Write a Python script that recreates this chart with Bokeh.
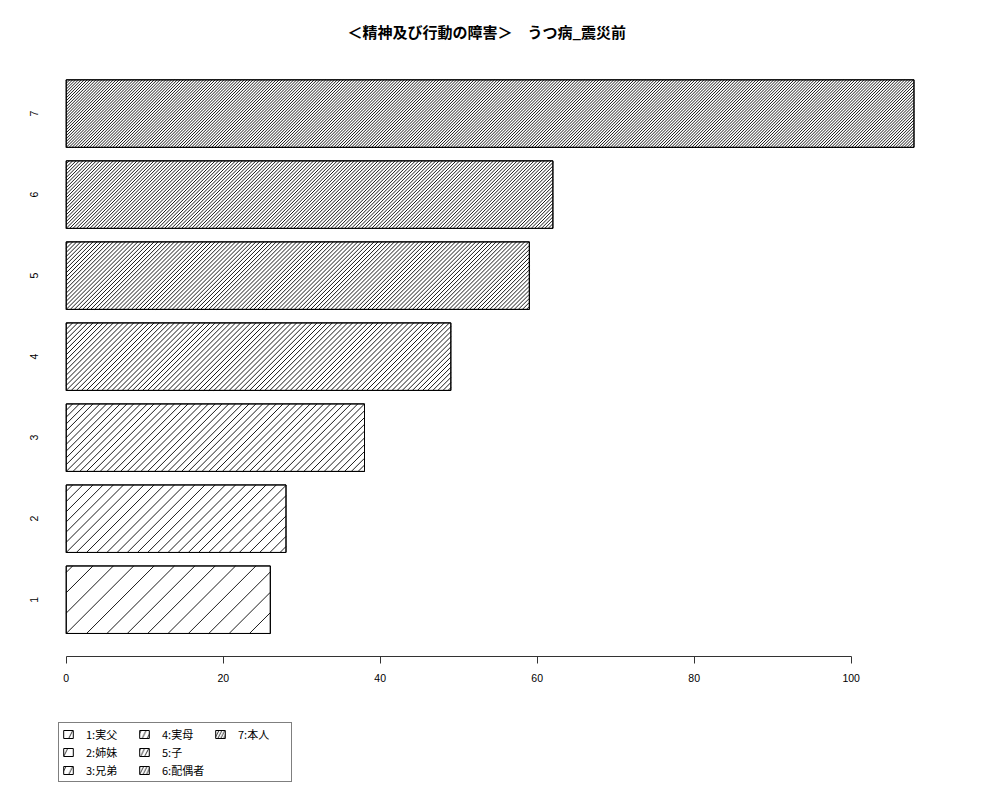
import math
from bokeh.plotting import figure
from bokeh.layouts import column
from bokeh.models import Range1d, FixedTicker, Legend, LegendItem
from bokeh.embed import file_html
from bokeh.resources import INLINE

# ---- data ----
categories = ["1", "2", "3", "4", "5", "6", "7"]
values = [26, 28, 38, 49, 59, 62, 108]
densities = [5, 10, 15, 20, 25, 30, 35]          # hatch lines per inch (R "density")
legend_labels = ["1:実父", "2:姉妹", "3:兄弟", "4:実母", "5:子", "6:配偶者", "7:本人"]
x_ticks = [0, 20, 40, 60, 80, 100]
title_text = "＜精神及び行動の障害＞　うつ病_震災前"

# bar layout (R barplot: width 1, space 0.2)
bar_width = 1.0
bar_space = 0.2
centers = [round(bar_space + bar_width / 2 + i * (bar_width + bar_space), 3) for i in range(len(values))]

# ---- main chart geometry ----
W, H = 992, 700
BL, BR, BT, BB = 45, 45, 58, 44
X0, X1 = -2.64, 112.27
Y0, Y1 = -0.141, 8.716
xs = (W - BL - BR) / (X1 - X0)      # px per x unit
ys = (H - BT - BB) / (Y1 - Y0)      # px per y unit

p = figure(width=W, height=H, output_backend="svg", toolbar_location=None,
           x_range=Range1d(X0, X1), y_range=Range1d(Y0, Y1),
           min_border_left=BL, min_border_right=BR, min_border_top=BT, min_border_bottom=BB)
p.outline_line_color = None
p.xgrid.visible = False
p.ygrid.visible = False
p.background_fill_color = "white"
p.border_fill_color = "white"

p.title.text = title_text
p.title.text_font = "Noto Sans CJK JP"
p.title.text_font_style = "bold"
p.title.text_font_size = "15px"
p.title.text_color = "black"
p.title.align = "left"
p.title.offset = 302
p.title.standoff = 34

# bars (white fill, black border)
p.hbar(y=centers, right=values, left=0, height=bar_width,
       fill_color="white", line_color="black", line_width=1)

# 45-degree hatching inside each bar, as R's density/angle=45 shading
slope = xs / ys                      # data-y per data-x for a 45deg line on screen
hx0, hy0, hx1, hy1 = [], [], [], []
for c_y, v, d in zip(centers, values, densities):
    b, t = c_y - bar_width / 2, c_y + bar_width / 2
    step = (72 * math.sqrt(2) / d) / xs          # horizontal spacing in data units
    run = (t - b) / slope                        # x-extent of one hatch line
    k = math.floor(-run / step)
    while k * step < v:
        c = k * step
        xa0, xa1 = max(c, 0.0), min(c + run, v)
        if xa1 > xa0:
            hx0.append(xa0); hy0.append(b + slope * (xa0 - c))
            hx1.append(xa1); hy1.append(b + slope * (xa1 - c))
        k += 1
p.segment(x0=hx0, y0=hy0, x1=hx1, y1=hy1, line_color="black", line_width=0.9)

# redraw outlines on top
p.hbar(y=centers, right=values, left=0, height=bar_width,
       fill_color=None, line_color="black", line_width=1)

xa = p.xaxis[0]
xa.bounds = (0, 100)
xa.ticker = FixedTicker(ticks=x_ticks)
xa.minor_tick_line_color = None
xa.major_tick_in = 0
xa.major_tick_out = 7
xa.axis_line_color = "#333333"
xa.major_tick_line_color = "#333333"
xa.major_label_text_font = "Liberation Sans"
xa.major_label_text_font_size = "10.5px"
xa.major_label_text_color = "black"
xa.major_label_standoff = 10

ya = p.yaxis[0]
ya.ticker = FixedTicker(ticks=centers)
ya.major_label_overrides = {c: lab for c, lab in zip(centers, categories)}
ya.axis_line_color = None
ya.major_tick_line_color = None
ya.minor_tick_line_color = None
ya.major_tick_in = 0
ya.major_tick_out = 0
ya.major_label_orientation = "vertical"
ya.major_label_standoff = 7
ya.major_label_text_font = "Liberation Sans"
ya.major_label_text_font_size = "10.5px"
ya.major_label_text_color = "black"

# ---- legend strip (separate figure below the chart) ----
q = figure(width=W, height=100, output_backend="svg", toolbar_location=None,
           x_range=Range1d(1000, 1001), y_range=Range1d(1000, 1001),
           x_axis_location=None, y_axis_location=None,
           min_border_left=0, min_border_right=0, min_border_top=0, min_border_bottom=0)
q.outline_line_color = None
q.xgrid.visible = False
q.ygrid.visible = False
q.background_fill_color = "white"
q.border_fill_color = "white"

leg_renderers = []
for i, v in enumerate(values):
    leg_renderers.append(q.hbar(y=[centers[i]], right=[v], left=0, height=bar_width,
                                fill_color="white", line_color="black", line_width=1,
                                hatch_pattern="/", hatch_color="black", hatch_weight=0.8,
                                hatch_scale=2 * 72 * math.sqrt(2) / densities[i]))

items = [LegendItem(label=legend_labels[i], renderers=[leg_renderers[i]]) for i in range(len(values))]
legend = Legend(items=items, location=(13, 18), nrows=3, orientation="vertical",
                border_line_color="black", border_line_width=1, background_fill_alpha=1,
                padding=3, spacing=2, margin=0, glyph_width=12, glyph_height=10,
                label_standoff=12, label_width=50, label_height=12,
                label_text_font="Noto Sans CJK JP", label_text_font_size="11px",
                label_text_color="black")
q.add_layout(legend, "center")

layout = column(p, q, spacing=0)
open("out.html", "w").write(file_html(layout, INLINE))
